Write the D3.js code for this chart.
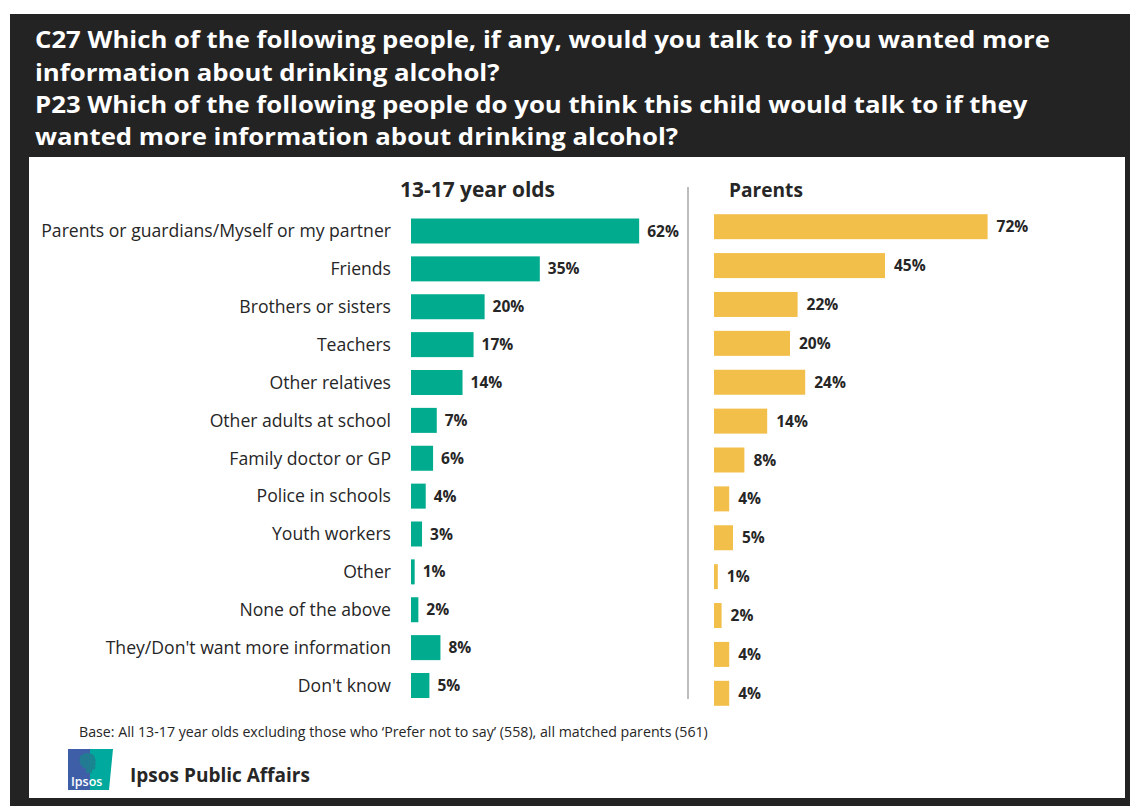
<!DOCTYPE html>
<html><head><meta charset="utf-8">
<script src="https://cdn.jsdelivr.net/npm/d3@7"></script>
<style>
html,body{margin:0;padding:0;background:#fff;}
svg{display:block;font-family:"Open Sans","Noto Sans",sans-serif;}
</style></head>
<body>
<svg id="chart" width="1130" height="806"></svg>
<script>
const titleLines = [
  "C27 Which of the following people, if any, would you talk to if you wanted more",
  "information about drinking alcohol?",
  "P23 Which of the following people do you think this child would talk to if they",
  "wanted more information about drinking alcohol?"
];
const categories = [
  "Parents or guardians/Myself or my partner",
  "Friends",
  "Brothers or sisters",
  "Teachers",
  "Other relatives",
  "Other adults at school",
  "Family doctor or GP",
  "Police in schools",
  "Youth workers",
  "Other",
  "None of the above",
  "They/Don't want more information",
  "Don't know"
];
const teens = [62, 35, 20, 17, 14, 7, 6, 4, 3, 1, 2, 8, 5];
const parents = [72, 45, 22, 20, 24, 14, 8, 4, 5, 1, 2, 4, 4];
const seriesNames = ["13-17 year olds", "Parents"];
const baseNote = "Base:  All 13-17 year olds excluding those who \u2018Prefer not to say\u2019 (558), all matched parents (561)";
const footerText = "Ipsos Public Affairs";

const svg = d3.select("#chart");
const dark = "#232323", teal = "#00ab8e", gold = "#f2bf4b", txt = "#262626";

function fit(sel, w) {
  const fs = parseFloat(sel.attr("font-size"));
  const cur = sel.node().getComputedTextLength();
  sel.attr("font-size", (fs * w / cur).toFixed(2));
}

// frame
svg.append("rect").attr("x", 10).attr("y", 14).attr("width", 1120).attr("height", 792).attr("fill", dark);
svg.append("rect").attr("x", 29).attr("y", 157).attr("width", 1096).attr("height", 641).attr("fill", "#fff");

// title
const titleBase = [48, 81, 113, 145];
const tl = svg.append("g").selectAll("text").data(titleLines).join("text")
  .attr("x", 35).attr("y", (d, i) => titleBase[i])
  .attr("fill", "#fff").attr("font-weight", 700).attr("font-size", 23.2).text(d => d);
const natW = tl.nodes().map(n => n.getComputedTextLength());
const k = 1015 / natW[0];
tl.attr("textLength", (d, i) => (natW[i] * k).toFixed(1)).attr("lengthAdjust", "spacingAndGlyphs");

// scales
const yT = d3.scalePoint().domain(categories).range([231, 685.5]);
const yP = d3.scalePoint().domain(categories).range([226.7, 693.3]);
const xT = d3.scaleLinear().domain([0, 100]).range([411, 779]);
const xP = d3.scaleLinear().domain([0, 100]).range([714, 1094]);
const bh = 25;

// headers
const h1 = svg.append("text").attr("x", 400).attr("y", 196.5).attr("font-weight", 700)
  .attr("font-size", 19).attr("fill", txt).text(seriesNames[0]);
fit(h1, 155);
const h2 = svg.append("text").attr("x", 729).attr("y", 196.5).attr("font-weight", 700)
  .attr("font-size", 19).attr("fill", txt).text(seriesNames[1]);
fit(h2, 74);

// divider
svg.append("line").attr("x1", 688).attr("x2", 688).attr("y1", 187).attr("y2", 699)
  .attr("stroke", "#bdbdbd").attr("stroke-width", 2);

// category labels
const labels = svg.append("g").selectAll("text").data(categories).join("text")
  .attr("x", 391).attr("y", d => yT(d)).attr("dy", "0.36em")
  .attr("text-anchor", "end").attr("font-size", 17).attr("fill", txt).text(d => d);
const firstW = labels.node().getComputedTextLength();
const lfs = 17 * 350 / firstW;
labels.attr("font-size", lfs.toFixed(2));

// teen bars
svg.append("g").selectAll("rect").data(teens).join("rect")
  .attr("x", xT(0)).attr("y", (d, i) => yT(categories[i]) - bh / 2)
  .attr("width", d => xT(d) - xT(0)).attr("height", bh).attr("fill", teal);
svg.append("g").selectAll("text").data(teens).join("text")
  .attr("x", d => xT(d) + 8).attr("y", (d, i) => yT(categories[i])).attr("dy", "0.36em")
  .attr("font-size", 15.5).attr("font-weight", 700).attr("fill", txt).text(d => d + "%");

// parent bars
svg.append("g").selectAll("rect").data(parents).join("rect")
  .attr("x", xP(0)).attr("y", (d, i) => yP(categories[i]) - bh / 2)
  .attr("width", d => xP(d) - xP(0)).attr("height", bh).attr("fill", gold);
svg.append("g").selectAll("text").data(parents).join("text")
  .attr("x", d => xP(d) + 9).attr("y", (d, i) => yP(categories[i])).attr("dy", "0.36em")
  .attr("font-size", 15.5).attr("font-weight", 700).attr("fill", txt).text(d => d + "%");

// base note
const bn = svg.append("text").attr("x", 79).attr("y", 736.5).attr("font-size", 13)
  .attr("fill", txt).text(baseNote);
fit(bn, 629);

// logo
const lg = svg.append("g").attr("transform", "translate(68,749)");
lg.append("rect").attr("width", 23).attr("height", 41).attr("fill", "#3f5ea8");
lg.append("path").attr("d", "M22,0 L45,0 L41,41 L22,41 Z").attr("fill", "#00a99d");
lg.append("path").attr("d", "M19,4 C13,4 10,9 12,14 C13,17 15,19 18,20 L18,24 L24,24 L24,21 C27,21 28,19 27,17 L28,15 L27,13 C28,12 28,11 27,10 C27,6 24,4 19,4 Z")
  .attr("fill", "#1d7f8f").attr("opacity", 0.85);
lg.append("text").attr("x", 3).attr("y", 37).attr("font-size", 12.5).attr("font-weight", 600)
  .attr("fill", "#fff").text("Ipsos");

const ft = svg.append("text").attr("x", 130).attr("y", 782).attr("font-size", 20)
  .attr("font-weight", 700).attr("fill", txt).text(footerText);
fit(ft, 180);
</script>
</body></html>
